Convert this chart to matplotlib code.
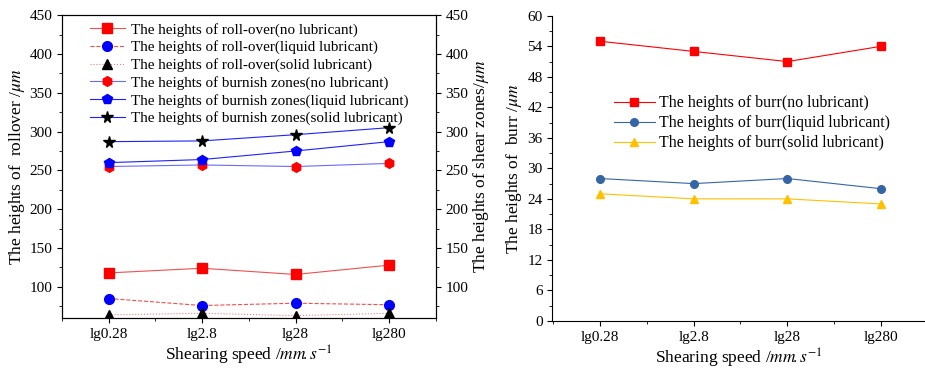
import matplotlib.pyplot as plt
from matplotlib.ticker import MultipleLocator

plt.rcParams['font.family'] = ['Liberation Serif', 'DejaVu Serif']
plt.rcParams['mathtext.fontset'] = 'stix'

speeds = ['lg0.28', 'lg2.8', 'lg28', 'lg280']

# roll-over heights (um)
roll_none = [118, 124, 116, 128]
roll_liquid = [85, 76, 79, 77]
roll_solid = [64, 66, 63, 66]

# burnish zone heights (um)
burn_none = [255, 257, 255, 259]
burn_liquid = [260, 264, 275, 287]
burn_solid = [287, 288, 296, 305]

# burr heights (um)
burr_none = [55, 53, 51, 54]
burr_liquid = [28, 27, 28, 26]
burr_solid = [25, 24, 24, 23]

x = range(len(speeds))
xlab = r'Shearing speed /$\mathit{mm}\!.\mathit{s}^{-1}$'

fig = plt.figure(figsize=(9.25, 3.68), dpi=100)
ax1 = fig.add_axes([0.067, 0.136, 0.404, 0.823])
ax2 = fig.add_axes([0.597, 0.128, 0.403, 0.829])

ax1.plot(x, roll_none, color='#f05050', lw=0.8, marker='s', ms=6.5, mfc='red', mec='red',
         label='The heights of roll-over(no lubricant)')
ax1.plot(x, roll_liquid, color='#f05050', lw=0.8, ls='--', marker='o', ms=7, mfc='blue', mec='blue',
         label='The heights of roll-over(liquid lubricant)')
ax1.plot(x, roll_solid, color='#f08080', lw=0.8, ls=':', marker='^', ms=7, mfc='black', mec='black',
         label='The heights of roll-over(solid lubricant)')
ax1.plot(x, burn_none, color='#6a6aff', lw=0.8, marker='h', ms=7, mfc='red', mec='red',
         label='The heights of burnish zones(no lubricant)')
ax1.plot(x, burn_liquid, color='#2020ff', lw=0.8, marker='p', ms=7, mfc='blue', mec='blue',
         label='The heights of burnish zones(liquid lubricant)')
ax1.plot(x, burn_solid, color='#2020ff', lw=0.8, marker='*', ms=8.5, mfc='black', mec='black',
         label='The heights of burnish zones(solid lubricant)')

ax1.set_xlim(-0.5, 3.5)
ax1.set_ylim(60, 450)
ax1.set_xticks(list(x))
ax1.set_xticklabels(speeds)
ax1.xaxis.set_minor_locator(MultipleLocator(0.5))
ax1.yaxis.set_major_locator(MultipleLocator(50))
ax1.yaxis.set_minor_locator(MultipleLocator(25))
ax1.set_xlabel(xlab, fontsize=12.5, labelpad=2)
ax1.set_ylabel(r'The heights of  rollover /$\mathit{\mu m}$', fontsize=12.5, labelpad=2)
ax1.tick_params(labelsize=11, direction='out')
ax1.legend(loc='upper left', bbox_to_anchor=(0.075, 0.975), frameon=False, fontsize=10.9,
           handlelength=2.3, handletextpad=0.4, labelspacing=0.25, borderpad=0, borderaxespad=0)

ax1r = ax1.twinx()
ax1r.set_ylim(60, 450)
ax1r.yaxis.set_major_locator(MultipleLocator(50))
ax1r.yaxis.set_minor_locator(MultipleLocator(25))
ax1r.tick_params(labelsize=11, direction='out')
ax1r.set_ylabel(r'The heights of shear zones/$\mathit{\mu m}$', fontsize=12.5, labelpad=2)

ax2.plot(x, burr_none, color='red', lw=0.8, marker='s', ms=5.5,
         label='The heights of burr(no lubricant)')
ax2.plot(x, burr_liquid, color='#3465a4', lw=0.8, marker='o', ms=5.5,
         label='The heights of burr(liquid lubricant)')
ax2.plot(x, burr_solid, color='#ffc000', lw=0.8, marker='^', ms=5.5,
         label='The heights of burr(solid lubricant)')
ax2.set_xlim(-0.51, 3.47)
ax2.set_ylim(0, 60)
ax2.set_xticks(list(x))
ax2.set_xticklabels(speeds)
ax2.xaxis.set_minor_locator(MultipleLocator(0.5))
ax2.yaxis.set_major_locator(MultipleLocator(6))
ax2.yaxis.set_minor_locator(MultipleLocator(3))
ax2.spines['top'].set_visible(False)
ax2.spines['right'].set_visible(False)
ax2.set_xlabel(xlab, fontsize=12.5, labelpad=2)
ax2.set_ylabel(r'The heights of  burr /$\mathit{\mu m}$', fontsize=12.5, labelpad=2)
ax2.tick_params(labelsize=11, direction='out')
ax2.legend(loc='upper left', bbox_to_anchor=(0.165, 0.74), frameon=False, fontsize=11.4,
           handlelength=2.6, handletextpad=0.25, labelspacing=0.25, borderpad=0, borderaxespad=0)

plt.savefig('out.png', dpi=100)
